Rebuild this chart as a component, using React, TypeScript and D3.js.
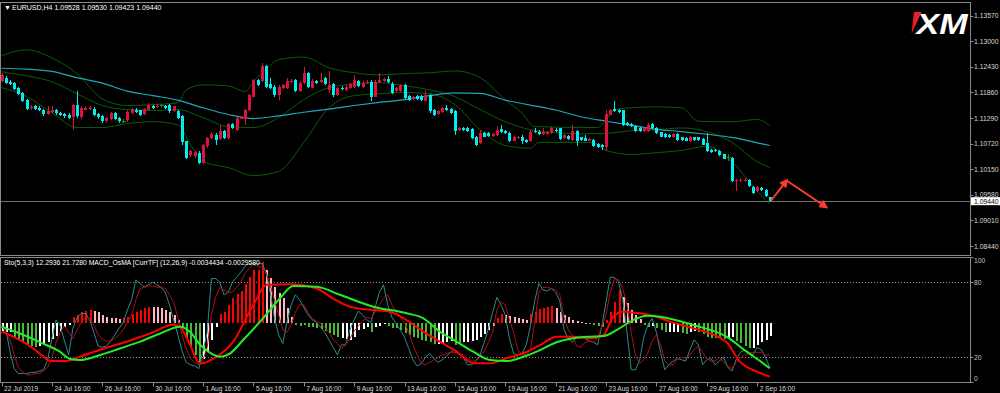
import React from 'react';
import * as d3 from 'd3';

// EURUSD H4 candles: [open, high, low, close]
const candles: [number, number, number, number][] = [
  [1.1212,1.1230,1.1210,1.1225],[1.1219,1.1222,1.1204,1.1207],[1.1210,1.1213,1.1202,1.1205],[1.1207,1.1209,1.1191,1.1194],
  [1.1196,1.1198,1.1180,1.1183],[1.1185,1.1188,1.1165,1.1168],[1.1170,1.1172,1.1146,1.1150],[1.1152,1.1159,1.1148,1.1154],
  [1.1155,1.1158,1.1147,1.1150],[1.1152,1.1155,1.1145,1.1148],[1.1148,1.1150,1.1133,1.1138],[1.1138,1.1155,1.1135,1.1144],
  [1.1143,1.1157,1.1141,1.1148],[1.1146,1.1149,1.1137,1.1140],[1.1141,1.1143,1.1133,1.1135],[1.1139,1.1141,1.1130,1.1133],
  [1.1137,1.1140,1.1126,1.1129],[1.1131,1.1161,1.1103,1.1159],[1.1159,1.1190,1.1130,1.1133],[1.1131,1.1155,1.1128,1.1152],
  [1.1148,1.1155,1.1146,1.1152],[1.1149,1.1155,1.1147,1.1152],[1.1150,1.1153,1.1133,1.1135],[1.1138,1.1140,1.1128,1.1131],
  [1.1134,1.1136,1.1118,1.1122],[1.1122,1.1131,1.1119,1.1129],[1.1127,1.1143,1.1125,1.1140],[1.1140,1.1143,1.1125,1.1127],
  [1.1129,1.1131,1.1119,1.1122],[1.1122,1.1126,1.1117,1.1122],[1.1124,1.1146,1.1121,1.1143],[1.1141,1.1152,1.1139,1.1149],
  [1.1148,1.1151,1.1140,1.1143],[1.1146,1.1148,1.1134,1.1137],[1.1138,1.1151,1.1136,1.1149],[1.1148,1.1162,1.1146,1.1159],
  [1.1157,1.1159,1.1150,1.1152],[1.1153,1.1160,1.1151,1.1157],[1.1156,1.1160,1.1152,1.1156],[1.1157,1.1159,1.1150,1.1152],
  [1.1159,1.1161,1.1141,1.1144],[1.1144,1.1157,1.1142,1.1155],[1.1144,1.1146,1.1127,1.1129],[1.1133,1.1135,1.1070,1.1076],
  [1.1077,1.1079,1.1037,1.1040],[1.1046,1.1058,1.1043,1.1055],[1.1044,1.1055,1.1041,1.1053],[1.1052,1.1055,1.1026,1.1029],
  [1.1029,1.1072,1.1027,1.1070],[1.1066,1.1087,1.1063,1.1085],[1.1085,1.1098,1.1083,1.1094],[1.1092,1.1095,1.1070,1.1081],
  [1.1083,1.1114,1.1080,1.1100],[1.1101,1.1103,1.1083,1.1085],[1.1085,1.1118,1.1083,1.1116],[1.1116,1.1119,1.1105,1.1107],
  [1.1102,1.1132,1.1100,1.1129],[1.1128,1.1134,1.1126,1.1131],[1.1126,1.1150,1.1114,1.1148],[1.1148,1.1183,1.1145,1.1181],
  [1.1177,1.1216,1.1175,1.1213],[1.1213,1.1216,1.1200,1.1203],[1.1212,1.1251,1.1209,1.1244],[1.1244,1.1247,1.1196,1.1199],
  [1.1205,1.1218,1.1193,1.1196],[1.1199,1.1202,1.1177,1.1180],[1.1181,1.1202,1.1170,1.1199],[1.1196,1.1205,1.1194,1.1203],
  [1.1196,1.1218,1.1194,1.1211],[1.1209,1.1215,1.1207,1.1212],[1.1214,1.1217,1.1187,1.1190],[1.1190,1.1211,1.1188,1.1208],
  [1.1207,1.1242,1.1205,1.1229],[1.1229,1.1232,1.1197,1.1199],[1.1197,1.1215,1.1195,1.1212],[1.1212,1.1214,1.1205,1.1207],
  [1.1210,1.1229,1.1208,1.1214],[1.1218,1.1220,1.1203,1.1205],[1.1192,1.1233,1.1185,1.1203],[1.1205,1.1208,1.1177,1.1180],
  [1.1180,1.1199,1.1178,1.1196],[1.1197,1.1200,1.1191,1.1194],[1.1192,1.1202,1.1190,1.1199],[1.1196,1.1208,1.1194,1.1205],
  [1.1199,1.1225,1.1197,1.1214],[1.1212,1.1214,1.1199,1.1201],[1.1199,1.1211,1.1197,1.1208],[1.1207,1.1213,1.1205,1.1210],
  [1.1210,1.1213,1.1166,1.1177],[1.1177,1.1213,1.1175,1.1210],[1.1210,1.1229,1.1208,1.1214],[1.1212,1.1219,1.1210,1.1216],
  [1.1216,1.1223,1.1207,1.1209],[1.1205,1.1209,1.1183,1.1186],[1.1190,1.1199,1.1188,1.1197],[1.1190,1.1206,1.1188,1.1203],
  [1.1203,1.1206,1.1172,1.1174],[1.1179,1.1181,1.1168,1.1170],[1.1172,1.1179,1.1170,1.1177],[1.1178,1.1180,1.1170,1.1172],
  [1.1178,1.1181,1.1168,1.1170],[1.1168,1.1192,1.1166,1.1181],[1.1181,1.1183,1.1141,1.1144],[1.1148,1.1150,1.1133,1.1137],
  [1.1138,1.1146,1.1136,1.1144],[1.1143,1.1154,1.1141,1.1152],[1.1152,1.1159,1.1144,1.1146],[1.1150,1.1152,1.1138,1.1140],
  [1.1144,1.1146,1.1092,1.1100],[1.1103,1.1110,1.1101,1.1108],[1.1108,1.1110,1.1101,1.1103],[1.1107,1.1109,1.1098,1.1100],
  [1.1105,1.1108,1.1083,1.1085],[1.1087,1.1089,1.1066,1.1070],[1.1074,1.1103,1.1072,1.1096],[1.1096,1.1098,1.1086,1.1088],
  [1.1096,1.1099,1.1086,1.1089],[1.1089,1.1096,1.1087,1.1094],[1.1092,1.1111,1.1090,1.1103],[1.1105,1.1113,1.1095,1.1097],
  [1.1101,1.1103,1.1094,1.1096],[1.1096,1.1098,1.1075,1.1077],[1.1079,1.1089,1.1077,1.1086],[1.1085,1.1089,1.1083,1.1087],
  [1.1088,1.1091,1.1072,1.1079],[1.1081,1.1083,1.1074,1.1076],[1.1077,1.1102,1.1075,1.1099],[1.1101,1.1107,1.1096,1.1098],
  [1.1099,1.1102,1.1092,1.1094],[1.1094,1.1107,1.1092,1.1099],[1.1094,1.1100,1.1092,1.1098],[1.1096,1.1109,1.1094,1.1106],
  [1.1103,1.1106,1.1098,1.1100],[1.1106,1.1108,1.1081,1.1083],[1.1085,1.1093,1.1083,1.1091],[1.1089,1.1091,1.1081,1.1083],
  [1.1081,1.1114,1.1079,1.1100],[1.1100,1.1102,1.1066,1.1079],[1.1086,1.1088,1.1079,1.1081],[1.1085,1.1092,1.1077,1.1079],
  [1.1079,1.1085,1.1077,1.1083],[1.1081,1.1083,1.1064,1.1066],[1.1072,1.1074,1.1062,1.1064],[1.1070,1.1072,1.1059,1.1064],
  [1.1064,1.1148,1.1055,1.1138],[1.1137,1.1150,1.1135,1.1148],[1.1150,1.1166,1.1142,1.1144],[1.1148,1.1150,1.1141,1.1143],
  [1.1146,1.1148,1.1112,1.1114],[1.1118,1.1120,1.1112,1.1114],[1.1116,1.1118,1.1109,1.1111],[1.1111,1.1113,1.1098,1.1100],
  [1.1107,1.1109,1.1099,1.1101],[1.1101,1.1109,1.1099,1.1107],[1.1100,1.1117,1.1098,1.1114],[1.1116,1.1119,1.1105,1.1107],
  [1.1108,1.1110,1.1094,1.1096],[1.1097,1.1099,1.1086,1.1088],[1.1094,1.1096,1.1084,1.1086],[1.1092,1.1094,1.1084,1.1086],
  [1.1086,1.1096,1.1084,1.1094],[1.1094,1.1096,1.1079,1.1081],[1.1086,1.1088,1.1079,1.1081],[1.1085,1.1087,1.1077,1.1079],
  [1.1077,1.1090,1.1075,1.1088],[1.1086,1.1088,1.1079,1.1081],[1.1086,1.1088,1.1079,1.1081],[1.1083,1.1085,1.1068,1.1070],
  [1.1074,1.1096,1.1053,1.1055],[1.1059,1.1061,1.1051,1.1053],[1.1059,1.1061,1.1053,1.1055],[1.1055,1.1057,1.1044,1.1046],
  [1.1048,1.1050,1.1037,1.1039],[1.1042,1.1048,1.1033,1.1042],[1.1040,1.1042,1.0986,1.0989],[1.0989,1.0994,1.0966,1.0992],
  [1.0989,1.0995,1.0987,1.0992],[1.0989,1.0996,1.0987,1.0992],[1.0992,1.0994,1.0975,1.0977],[1.0975,1.0977,1.0961,1.0963],
  [1.0966,1.0977,1.0964,1.0975],[1.0974,1.0976,1.0966,1.0968],[1.0970,1.0972,1.0953,1.0955],[1.09528,1.09530,1.09423,1.09440],
];

// moving average (cyan) and Bollinger bands (dark green): [bar, price]
const maLine: [number, number][] = [
  [0,1.1240],[6,1.1238],[12,1.1233],[18,1.1219],[24,1.1207],[30,1.1189],[36,1.1179],[42,1.1169],[48,1.1152],[54,1.1137],
  [60,1.1128],[66,1.1134],[72,1.1142],[78,1.1149],[84,1.1157],[90,1.1164],[96,1.1170],[102,1.1179],[108,1.1185],[114,1.1184],
  [120,1.1169],[126,1.1158],[132,1.1147],[138,1.1132],[144,1.1122],[150,1.1113],[156,1.1104],[162,1.1099],[168,1.1093],
  [174,1.1086],[180,1.1074],[183,1.1068],
];
const bbUpper: [number, number][] = [
  [0,1.1268],[6,1.1281],[12,1.1263],[18,1.1228],[24,1.1172],[30,1.1157],[36,1.1159],[42,1.1163],[44,1.1192],[48,1.1203],
  [54,1.1201],[58,1.1188],[60,1.1210],[63,1.1238],[66,1.1259],[72,1.1265],[78,1.1241],[84,1.1230],[90,1.1225],[96,1.1228],
  [102,1.1230],[108,1.1234],[114,1.1219],[120,1.1170],[124,1.1140],[127,1.1110],[142,1.1108],[144,1.1124],[146,1.1148],
  [150,1.1152],[156,1.1154],[162,1.1152],[166,1.1122],[174,1.1121],[180,1.1126],[183,1.1112],
];
const bbMiddle: [number, number][] = [
  [0,1.1232],[6,1.1223],[12,1.1210],[18,1.1183],[24,1.1157],[30,1.1148],[36,1.1146],[42,1.1148],[48,1.1130],[54,1.1110],
  [60,1.1108],[66,1.1130],[72,1.1170],[78,1.1197],[84,1.1205],[90,1.1208],[96,1.1201],[102,1.1192],[108,1.1177],[114,1.1148],
  [120,1.1121],[126,1.1103],[132,1.1097],[138,1.1094],[144,1.1095],[150,1.1101],[156,1.1103],[162,1.1107],[168,1.1099],
  [174,1.1075],[180,1.1032],[183,1.1019],
];
const bbLower: [number, number][] = [
  [0,1.1197],[6,1.1177],[12,1.1141],[18,1.1108],[24,1.1108],[30,1.1117],[36,1.1121],[42,1.1114],[45,1.1070],[48,1.1032],
  [54,1.1019],[60,1.1001],[66,1.1010],[72,1.1075],[78,1.1152],[84,1.1179],[90,1.1183],[96,1.1186],[102,1.1183],[108,1.1159],
  [114,1.1103],[120,1.1068],[126,1.1062],[128,1.1075],[138,1.1075],[141,1.1074],[144,1.1057],[150,1.1048],[156,1.1052],
  [162,1.1057],[168,1.1066],[174,1.1032],[180,1.0966],[183,1.0937],
];

// Stochastic (5,3,3) main and signal, one value per bar
const stochMain = [
  44,43,25,11,7,7,7,8,8,9, 10,18,35,50,45,33,22,43,52,55, 55,50,40,29,28,29,33,38,43,48,
  58,66,82,79,76,78,80,78,76,72, 62,50,38,25,16,14,13,11,25,40, 83,83,80,70,72,80,84,88,93,95,
  95,95,95,88,72,52,38,31,48,62, 70,66,60,54,50,48,44,40,34,28, 22,30,30,42,
  50,57,54,50,48,60,72,78,62,52, 47,42,36,27,18,13,15,20,23,19, 16,18,21,24,26,23,20,14,14,17,
  22,32,43,56,68,62,54,35,23,22, 23,30,45,65,79,74,73,75,72,65, 42,35,32,36,37,35,33,32,30,45,
  64,84,84,80,66,40,10,10,18,36, 46,51,40,24,10,14,17,19,18,17, 26,34,30,14,18,19,14,17,20,12,
  9,18,24,26,24,22,28,26,20,12,
];
const stochSignal = [
  46,40,34,22,12,8,6,6,7,7, 9,12,20,32,40,45,40,35,42,48, 52,51,46,38,35,33,33,35,38,42,
  48,54,66,75,76,77,77,76,76,75, 70,64,52,38,27,19,16,14,18,28, 54,68,76,74,72,72,76,80,87,91,
  94,93,92,88,78,66,54,42,40,46, 56,62,62,56,51,49,47,44,40,34, 31,27,30,35,
  41,45,49,52,51,56,62,67,70,62, 56,52,48,40,30,22,15,14,16,18, 20,22,23,24,24,23,22,19,17,17,
  20,25,32,40,58,64,62,50,40,26, 22,22,26,48,72,76,76,75,74,70, 52,42,37,29,28,32,33,32,35,45,
  54,72,83,82,75,62,40,22,15,18, 24,33,38,30,17,14,14,19,20,19, 22,26,29,24,19,17,17,20,16,13,
  11,16,19,22,23,24,24,24,22,21.7,
];

// slow smoothed lines in the oscillator window: [bar, value]
const slowGreen: [number, number][] = [
  [0,44.5],[4.4,39],[9.2,32],[13.9,24.5],[16.3,18.6],[18.7,17.8],[23.5,21.8],[28.2,27],[33,32.5],[37.8,39],[42.5,44.5],
  [45,40],[47.3,30],[50,23],[52.1,20.5],[54.4,23],[57.6,34],[61.6,48.5],[66.3,67],[69.5,77],[75.1,76.5],[80.6,70],
  [88.6,60.5],[96.5,55.2],[100.5,51.2],[104.4,40.5],[108.4,32.5],[112.4,24.5],[116.4,17.8],[120.3,17],[124.3,20.5],
  [128.3,25.8],[132.2,32],[136.2,35.2],[140.2,36.5],[143.4,37],[146.5,41.8],[150.5,49.8],[153.7,53.3],[156.9,52.5],
  [164.8,45.8],[172.7,36.5],[177.5,24.5],[180.7,17],[183,11.2],
];
const slowRed: [number, number][] = [
  [0,40.5],[2.8,36.5],[7.6,27],[10,20.5],[11.6,17],[15.5,17],[18.7,20.5],[23.5,26],[29.8,32.5],[35.4,39],[40.9,46],
  [42.5,44.5],[44.9,30],[47.3,15],[50.5,19],[55.2,32.5],[60,62],[63.2,78],[68.7,78.5],[75.1,75],[79,67],[83,60.5],
  [88.6,57.8],[92.5,56.5],[96.5,49.8],[100.5,40.5],[104.4,32.5],[108.4,24.5],[112.4,15.2],[116.4,15.2],[120.3,19.2],
  [124.3,23.2],[128.3,29.8],[132.2,36.5],[136.2,36.5],[140.2,35.2],[143.4,37.8],[145.7,52.5],[148.1,56.5],[152.1,55.2],
  [156,52.5],[159.2,48.5],[164.8,43.2],[172.7,32],[175.9,16.5],[179.9,8.5],[183,4.5],
];

// MACD OsMA histogram, units of 0.0001, one value per bar
const osma = [
  -20,-22,-23,-35,-43,-49,-55,-59,-61,-58, -55,-49,-41,-32,-20,-9,-4,17,22,29, 32,35,32,29,22,17,15,13,11,15,
  17,23,29,35,39,42,43,43,41,35, 29,22,9,-13,-39,-61,-82,-100,-93,-74, -43,-9,23,29,48,65,75,84,101,121,
  139,139,159,139,117,95,78,65,39,17, -4,-6,-4,-9,-9,-13,-15,-20,-26,-30, -35,-39,-41,-43,-35,-17,-15,-9,-23,-9,
  -6,-3,-6,-11,-13,-17,-26,-30,-35,-39, -43,-46,-49,-55,-55,-52,-49,-46,-56,-52, -49,-48,-46,-43,-35,-29,-17,-6,13,23,
  22,20,17,15,11,9,23,30,37,41, 43,46,39,30,22,17,9,6,3,2, 1,-4,-7,-9,9,29,56,87,69,52,
  35,22,11,-4,-9,-6,-13,-17,-22,-23, -23,-22,-26,-29,-23,-20,-23,-29,-35,-37, -39,-39,-41,-37,-35,-46,-52,-58,-65,-63,
  -56,-49,-43,-34,
];
// histogram colour runs: [colour key, number of bars]  r red, p pink, g green, w white
const osmaColorRuns: [string, number][] = [
  ['w',3],['g',6],['w',8],['r',5],['p',7],['r',7],['p',7],['g',5],['w',4],['r',11],['p',7],['g',11],
  ['w',7],['g',1],['w',3],['g',12],['w',4],['g',2],['w',8],['r',2],['p',6],['r',6],['p',8],['g',4],
  ['r',4],['p',5],['g',2],['w',1],['g',3],['w',3],['g',2],['w',2],['g',7],['w',2],['g',4],['w',5],
];

const priceTicks = [1.1357, 1.13, 1.1243, 1.1186, 1.1129, 1.1072, 1.1015, 1.0958, 1.0901, 1.0844];
const levelTicks = [100, 80, 20, 0];
const dottedLevels = [80, 20];
const timeLabels: [number, string][] = [
  [0,'22 Jul 2019'],[12,'24 Jul 16:00'],[24,'26 Jul 16:00'],[36,'30 Jul 16:00'],[48,'1 Aug 16:00'],[60,'5 Aug 16:00'],
  [72,'7 Aug 16:00'],[84,'9 Aug 16:00'],[96,'13 Aug 16:00'],[108,'15 Aug 16:00'],[120,'19 Aug 16:00'],[132,'21 Aug 16:00'],
  [144,'23 Aug 16:00'],[156,'27 Aug 16:00'],[168,'29 Aug 16:00'],[180,'2 Sep 16:00'],
];
const lastPrice = 1.0944;
// hand-drawn forecast arrows: [bar, price]
const arrowUp: [number, number][] = [[183.3, 1.0945], [187, 1.0990]];
const arrowDown: [number, number][] = [[187, 1.0990], [196.4, 1.0931]];

const FONT = 'Tahoma, "Liberation Sans", Arial, sans-serif';
const BULL = '#dc143c';
const BEAR = '#00eef0';
const DOJI = '#1f8f1f';
const HIST: Record<string, string> = { r: '#ff0000', p: '#ffb6c1', g: '#4cb837', w: '#ffffff' };
const FRAME = '#8a8a8a';
const AXIS_TXT = '#d8d8d8';

const W = 1000, H = 393;
const RIGHT = 970.5;
const MAIN = { top: 2.5, bottom: 255.5 };
const IND = { top: 257.5, bottom: 382.5 };

export default function App() {
  const x = d3.scaleLinear().domain([0, 183]).range([1.5, 1.5 + 183 * 4.198]);
  const yP = d3.scaleLinear().domain([1.1357, 1.0844]).range([15.7, 246.1]);
  const yI = d3.scaleLinear().domain([0, 100]).range([382.3, 257.3]);
  const yH = d3.scaleLinear().domain([0, 159]).range([323.3, 262.1]);

  const priceLine = d3.line<[number, number]>().x(d => x(d[0])).y(d => yP(d[1])).curve(d3.curveMonotoneX);
  const straight = d3.line<[number, number]>().x(d => x(d[0])).y(d => yP(d[1]));
  const indLine = d3.line<[number, number]>().x(d => x(d[0])).y(d => yI(d[1])).curve(d3.curveMonotoneX);
  const barLine = d3.line<number>().x((_, i) => x(i)).y(v => yI(v));
  const fmt = d3.format('.5f');
  const px = (i: number) => Math.round(x(i)) + 0.5;

  const histColors: string[] = osmaColorRuns.flatMap(([k, n]) => Array(n).fill(HIST[k]));

  return (
    <svg width={W} height={H} style={{ position: 'fixed', left: 0, top: 0, background: '#000' }}
      fontFamily={FONT}>
      <defs>
        <clipPath id="mainClip"><rect x={1} y={MAIN.top} width={RIGHT - 1} height={MAIN.bottom - MAIN.top} /></clipPath>
        <clipPath id="indClip"><rect x={1} y={IND.top} width={RIGHT - 1} height={IND.bottom - IND.top} /></clipPath>
        <marker id="arrowHead" viewBox="0 0 10 10" refX="7" refY="5" markerWidth="4.5" markerHeight="4.5" orient="auto">
          <path d="M0,0 L10,5 L0,10 z" fill="#ff3b30" />
        </marker>
      </defs>
      <rect width={W} height={H} fill="#000" />

      {/* main price window */}
      <g clipPath="url(#mainClip)">
        <path d={priceLine(bbUpper) ?? ''} fill="none" stroke="#0a5c0a" strokeWidth={1} />
        <path d={priceLine(bbMiddle) ?? ''} fill="none" stroke="#0a5c0a" strokeWidth={1} />
        <path d={priceLine(bbLower) ?? ''} fill="none" stroke="#0a5c0a" strokeWidth={1} />
        <path d={priceLine(maLine) ?? ''} fill="none" stroke="#20a8b8" strokeWidth={1.2} />
        <line x1={1} x2={RIGHT} y1={Math.round(yP(lastPrice)) + 0.5} y2={Math.round(yP(lastPrice)) + 0.5} stroke="#707070" />
        <g shapeRendering="crispEdges">
          {candles.map(([o, h, l, c], i) => {
            const cx = px(i);
            const doji = o === c;
            const col = doji ? DOJI : c > o ? BULL : BEAR;
            const yt = yP(Math.max(o, c)), yb = yP(Math.min(o, c));
            return (
              <g key={i}>
                <line x1={cx} x2={cx} y1={yP(h)} y2={yP(l)} stroke={col} />
                {doji
                  ? <line x1={cx - 2} x2={cx + 2} y1={yt} y2={yt} stroke={col} />
                  : <rect x={cx - 1.5} y={yt} width={3} height={Math.max(1, yb - yt)} fill={col} />}
              </g>
            );
          })}
        </g>
        <path d={straight(arrowUp) ?? ''} stroke="#ff3b30" strokeWidth={2} fill="none" markerEnd="url(#arrowHead)" />
        <path d={straight(arrowDown) ?? ''} stroke="#ff3b30" strokeWidth={2} fill="none" markerEnd="url(#arrowHead)" />
      </g>

      {/* XM logo */}
      <polygon points="914,12 921.5,12 917,22 911.5,33.5" fill="#e8202a" />
      <text x={916.5} y={33.5} fontSize={30} fontWeight={900} fontStyle="italic" fill="#fff"
        fontFamily='"Liberation Sans", Arial, sans-serif' textLength={51} lengthAdjust="spacingAndGlyphs">XM</text>

      <text x={4} y={9.5} fontSize={7} fill="#fff">
        <tspan>▼</tspan><tspan x={12}>EURUSD,H4  1.09528 1.09530 1.09423 1.09440</tspan>
      </text>

      {/* oscillator window */}
      <g clipPath="url(#indClip)">
        {dottedLevels.map(v => (
          <line key={v} x1={1} x2={RIGHT} y1={Math.round(yI(v)) + 0.5} y2={Math.round(yI(v)) + 0.5}
            stroke="#8c8c8c" strokeDasharray="1 2" />
        ))}
        <g shapeRendering="crispEdges">
          {osma.map((v, i) => (
            <rect key={i} x={Math.round(x(i)) - 0.5} width={2}
              y={Math.min(yH(v), yH(0))} height={Math.max(1, Math.abs(yH(v) - yH(0)))}
              fill={histColors[i] ?? '#fff'} />
          ))}
        </g>
        <path d={barLine(stochMain) ?? ''} fill="none" stroke="#2a8c8c" strokeWidth={1} />
        <path d={barLine(stochSignal) ?? ''} fill="none" stroke="#b01010" strokeWidth={1} />
        <path d={indLine(slowRed) ?? ''} fill="none" stroke="#ff0000" strokeWidth={2} />
        <path d={indLine(slowGreen) ?? ''} fill="none" stroke="#22ee22" strokeWidth={2} />
      </g>
      <text x={4} y={264.5} fontSize={6.8} fill="#fff">
        Sto(5,3,3) 12.2936 21.7280  MACD_OsMA [CurrTF] (12,26,9) -0.0034434 -0.0029580
      </text>

      {/* frames */}
      <g fill="none" stroke={FRAME} shapeRendering="crispEdges">
        <rect x={0.5} y={MAIN.top} width={RIGHT - 0.5} height={MAIN.bottom - MAIN.top} />
        <rect x={0.5} y={IND.top} width={RIGHT - 0.5} height={IND.bottom - IND.top} />
      </g>

      {/* price axis */}
      <g fontSize={6.8} fill={AXIS_TXT}>
        {priceTicks.map(p => (
          <g key={p}>
            <line x1={RIGHT} x2={RIGHT + 3} y1={Math.round(yP(p)) + 0.5} y2={Math.round(yP(p)) + 0.5} stroke={FRAME} />
            <text x={974} y={yP(p) + 2.4}>{fmt(p)}</text>
          </g>
        ))}
        <rect x={971} y={yP(lastPrice) - 4} width={29} height={8} fill="#fff" />
        <text x={974} y={yP(lastPrice) + 2.4} fill="#000">{fmt(lastPrice)}</text>
      </g>

      {/* oscillator axis */}
      <g fontSize={6.8} fill="#b8c4d8">
        {levelTicks.map(v => (
          <g key={v}>
            <line x1={RIGHT} x2={RIGHT + 3} y1={Math.round(yI(v)) + 0.5} y2={Math.round(yI(v)) + 0.5} stroke={FRAME} />
            <text x={974} y={Math.min(Math.max(yI(v), 261), 379) + 2.4}>{v}</text>
          </g>
        ))}
      </g>

      {/* time axis */}
      <g fontSize={6.6} fill={AXIS_TXT}>
        {timeLabels.map(([b, t]) => (
          <g key={b}>
            <line x1={px(b)} x2={px(b)} y1={IND.bottom} y2={IND.bottom + 4} stroke={FRAME} />
            <text x={x(b) + 2.5} y={391}>{t}</text>
          </g>
        ))}
      </g>
    </svg>
  );
}
